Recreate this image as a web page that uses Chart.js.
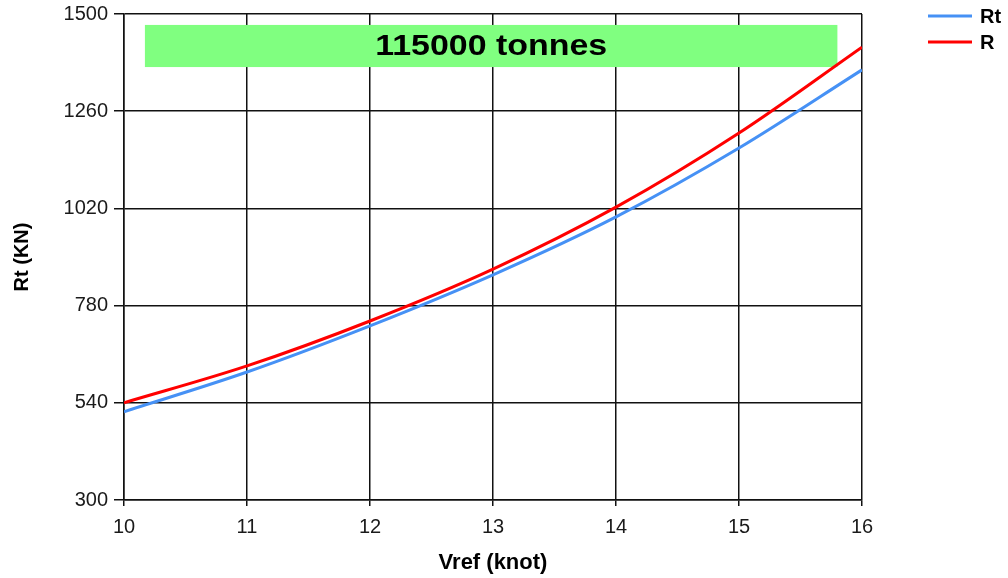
<!DOCTYPE html>
<html>
<head>
<meta charset="utf-8">
<script src="https://cdn.jsdelivr.net/npm/chart.js@4"></script>
<style>
  html, body { margin: 0; padding: 0; background: #fff; }
  #wrap { width: 1008px; height: 578px; position: relative; }
</style>
</head>
<body>
<div id="wrap"><canvas id="myChart"></canvas></div>
<script>
// speed in knots
const speeds = [10, 11, 12, 13, 14, 15, 16];
// resistance series (KN)
const rtValues = [518, 616, 730, 856, 999, 1169, 1362];
const rValues = [540, 631, 742, 870, 1023, 1206, 1418];
const yTicks = [300, 540, 780, 1020, 1260, 1500];
const boxLabel = '115000 tonnes';

const FONT = '"Liberation Sans", Arial, sans-serif';

// green label box, drawn behind the curves
const boxPlugin = {
    id: 'labelBox',
    beforeDatasetsDraw(chart) {
        const ctx = chart.ctx;
        const xs = chart.scales.x, ys = chart.scales.y;
        const x1 = xs.getPixelForValue(10.17), x2 = xs.getPixelForValue(15.8);
        const y1 = ys.getPixelForValue(1473), y2 = ys.getPixelForValue(1369);
        ctx.save();
        ctx.fillStyle = '#80ff80';
        ctx.fillRect(x1, y1, x2 - x1, y2 - y1);
        ctx.fillStyle = '#000';
        ctx.font = 'bold 29px ' + FONT;
        ctx.textAlign = 'center';
        ctx.textBaseline = 'middle';
        // text in the original is a bit wider than plain Arial
        ctx.translate((x1 + x2) / 2, (y1 + y2) / 2 + 1);
        ctx.scale(1.17, 1);
        ctx.fillText(boxLabel, 0, 0);
        ctx.restore();
    }
};

// simple legend in the top right corner
const legendPlugin = {
    id: 'sideLegend',
    afterDraw(chart) {
        const ctx = chart.ctx;
        ctx.save();
        chart.data.datasets.forEach(function(ds, i) {
            const y = 16 + i * 26;
            ctx.strokeStyle = ds.borderColor;
            ctx.lineWidth = 3;
            ctx.beginPath();
            ctx.moveTo(928, y);
            ctx.lineTo(972, y);
            ctx.stroke();
            ctx.fillStyle = '#000';
            ctx.font = 'bold 20px ' + FONT;
            ctx.textBaseline = 'middle';
            ctx.fillText(ds.label, 980, y + 1);
        });
        ctx.restore();
    }
};

const ctx = document.getElementById('myChart').getContext('2d');

const myChart = new Chart(ctx, {
    type: 'line',
    data: {
        datasets: [{
            label: 'Rt',
            data: speeds.map((s, i) => ({ x: s, y: rtValues[i] })),
            borderColor: 'rgb(70, 145, 245)',
            borderWidth: 3,
            pointRadius: 0,
            cubicInterpolationMode: 'monotone',
            fill: false
        }, {
            label: 'R',
            data: speeds.map((s, i) => ({ x: s, y: rValues[i] })),
            borderColor: 'rgb(255, 0, 0)',
            borderWidth: 3,
            pointRadius: 0,
            cubicInterpolationMode: 'monotone',
            fill: false
        }]
    },
    options: {
        responsive: true,
        maintainAspectRatio: false,
        animation: false,
        layout: {
            autoPadding: false,
            padding: { left: 0, right: 146, top: 14, bottom: 0 }
        },
        plugins: {
            legend: { display: false },
            tooltip: { enabled: false }
        },
        scales: {
            x: {
                type: 'linear',
                min: 10,
                max: 16,
                afterFit(scale) {
                    scale.height = 78;
                    scale.paddingLeft = 0;
                    scale.paddingRight = 0;
                },
                ticks: {
                    stepSize: 1,
                    padding: 9,
                    color: '#1a1a1a',
                    font: { family: FONT, size: 20 },
                    callback: v => String(v)
                },
                grid: {
                    color: '#111',
                    lineWidth: 1.5,
                    tickLength: 6
                },
                border: { color: '#111', width: 1.5 },
                title: {
                    display: true,
                    text: 'Vref (knot)',
                    color: '#000',
                    font: { family: FONT, size: 22, weight: 'bold' },
                    padding: { top: 0, bottom: 2 }
                }
            },
            y: {
                min: 300,
                max: 1500,
                afterFit(scale) {
                    scale.width = 124;
                    scale.paddingTop = 0;
                    scale.paddingBottom = 0;
                },
                afterBuildTicks(scale) {
                    scale.ticks = yTicks.map(v => ({ value: v }));
                },
                ticks: {
                    padding: 6,
                    color: '#1a1a1a',
                    font: { family: FONT, size: 20 },
                    callback: v => String(v)
                },
                grid: {
                    color: '#111',
                    lineWidth: 1.5,
                    tickLength: 10
                },
                border: { color: '#111', width: 1.5 },
                title: {
                    display: true,
                    text: 'Rt (KN)',
                    color: '#000',
                    font: { family: FONT, size: 20, weight: 'bold' },
                    padding: { top: 10, bottom: 0 }
                }
            }
        }
    },
    plugins: [boxPlugin, legendPlugin]
});
</script>
</body>
</html>
